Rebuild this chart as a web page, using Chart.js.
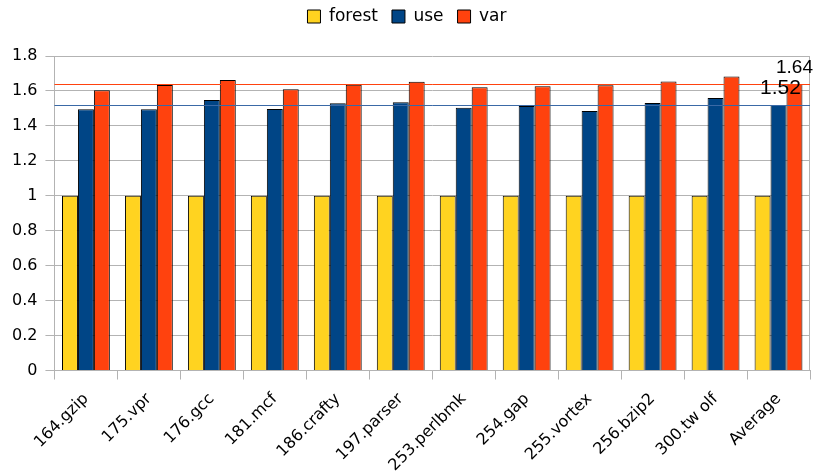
<!DOCTYPE html>
<html>
<head>
<meta charset="utf-8">
<script src="https://cdn.jsdelivr.net/npm/chart.js@4"></script>
<style>
    html, body { margin: 0; padding: 0; background: #fff; }
    #wrap { width: 819px; height: 471px; }
</style>
</head>
<body>
<div id="wrap"><canvas id="chart" width="819" height="471"></canvas></div>
<script>
    const categories = ['164.gzip', '175.vpr', '176.gcc', '181.mcf', '186.crafty', '197.parser',
        '253.perlbmk', '254.gap', '255.vortex', '256.bzip2', '300.tw olf', 'Average'];
    const forestValues = [1, 1, 1, 1, 1, 1, 1, 1, 1, 1, 1, 1];
    const useValues = [1.495, 1.495, 1.548, 1.497, 1.529, 1.535, 1.504, 1.514, 1.485, 1.531, 1.56, 1.52];
    const varValues = [1.604, 1.634, 1.663, 1.61, 1.636, 1.653, 1.621, 1.627, 1.633, 1.654, 1.683, 1.64];
    const yTicks = [0, 0.2, 0.4, 0.6, 0.8, 1, 1.2, 1.4, 1.6, 1.8];
    // average reference lines and labels
    const refLines = [{value: 1.52, color: '#3a69a6', dataset: 1, size: 21},
        {value: 1.64, color: '#FF420E', dataset: 2, size: 19}];

    const gridColor = '#b3b3b3';

    const legendGap = {
        id: 'legendGap',
        beforeInit(chart) {
            const fit = chart.legend.fit;
            chart.legend.fit = function () {
                fit.bind(chart.legend)();
                this.height += 21;
            };
        }
    };

    const extras = {
        id: 'extras',
        afterDatasetsDraw(chart) {
            const ctx = chart.ctx;
            const area = chart.chartArea;
            const y = chart.scales.y;
            ctx.save();
            ctx.strokeStyle = gridColor;
            ctx.lineWidth = 1;
            ctx.beginPath();
            ctx.moveTo(area.right - 0.5, area.top);
            ctx.lineTo(area.right - 0.5, area.bottom);
            ctx.stroke();

            refLines.forEach(line => {
                const py = Math.round(y.getPixelForValue(line.value)) + 0.5;
                ctx.strokeStyle = line.color;
                ctx.beginPath();
                ctx.moveTo(area.left, py);
                ctx.lineTo(area.right, py);
                ctx.stroke();
            });

            const last = categories.length - 1;
            refLines.forEach(line => {
                const bar = chart.getDatasetMeta(line.dataset).data[last];
                ctx.fillStyle = '#000';
                ctx.font = line.size + 'px "Liberation Sans", Arial, sans-serif';
                ctx.textAlign = 'center';
                ctx.textBaseline = 'alphabetic';
                ctx.fillText(line.value.toFixed(2), bar.x + (line.dataset === 1 ? 2 : 0), bar.y - 11);
            });
            ctx.restore();
        }
    };

    new Chart(document.getElementById('chart').getContext('2d'), {
        type: 'bar',
        data: {
            labels: categories,
            datasets: [
                {label: 'forest', data: forestValues, backgroundColor: '#FFD320', borderColor: '#000', borderWidth: 1},
                {label: 'use', data: useValues, backgroundColor: '#004586', borderColor: '#000', borderWidth: 1},
                {label: 'var', data: varValues, backgroundColor: '#FF420E', borderColor: '#000', borderWidth: 1}
            ]
        },
        options: {
            responsive: false,
            animation: false,
            layout: {padding: {top: -6, left: 4, right: 9, bottom: -14}},
            datasets: {bar: {barPercentage: 1, categoryPercentage: 0.76}},
            plugins: {
                tooltip: {enabled: false},
                legend: {
                    position: 'top',
                    labels: {
                        boxWidth: 13,
                        boxHeight: 13,
                        padding: 14,
                        color: '#000',
                        font: {family: '"DejaVu Sans", sans-serif', size: 17}
                    }
                }
            },
            scales: {
                x: {
                    grid: {drawOnChartArea: false, offset: true, tickLength: 9, color: gridColor},
                    border: {color: gridColor},
                    ticks: {
                        minRotation: 45,
                        maxRotation: 45,
                        autoSkip: false,
                        padding: 10,
                        color: '#000',
                        font: {family: '"DejaVu Sans", sans-serif', size: 16}
                    }
                },
                y: {
                    min: 0,
                    max: 1.8,
                    afterBuildTicks: axis => {
                        axis.ticks = yTicks.map(v => ({value: v}));
                    },
                    grid: {color: gridColor, tickLength: 9},
                    border: {color: gridColor},
                    ticks: {
                        padding: 8,
                        color: '#000',
                        font: {family: '"DejaVu Sans", sans-serif', size: 16},
                        callback: value => String(Math.round(value * 10) / 10)
                    }
                }
            }
        },
        plugins: [extras, legendGap]
    });
</script>
</body>
</html>
